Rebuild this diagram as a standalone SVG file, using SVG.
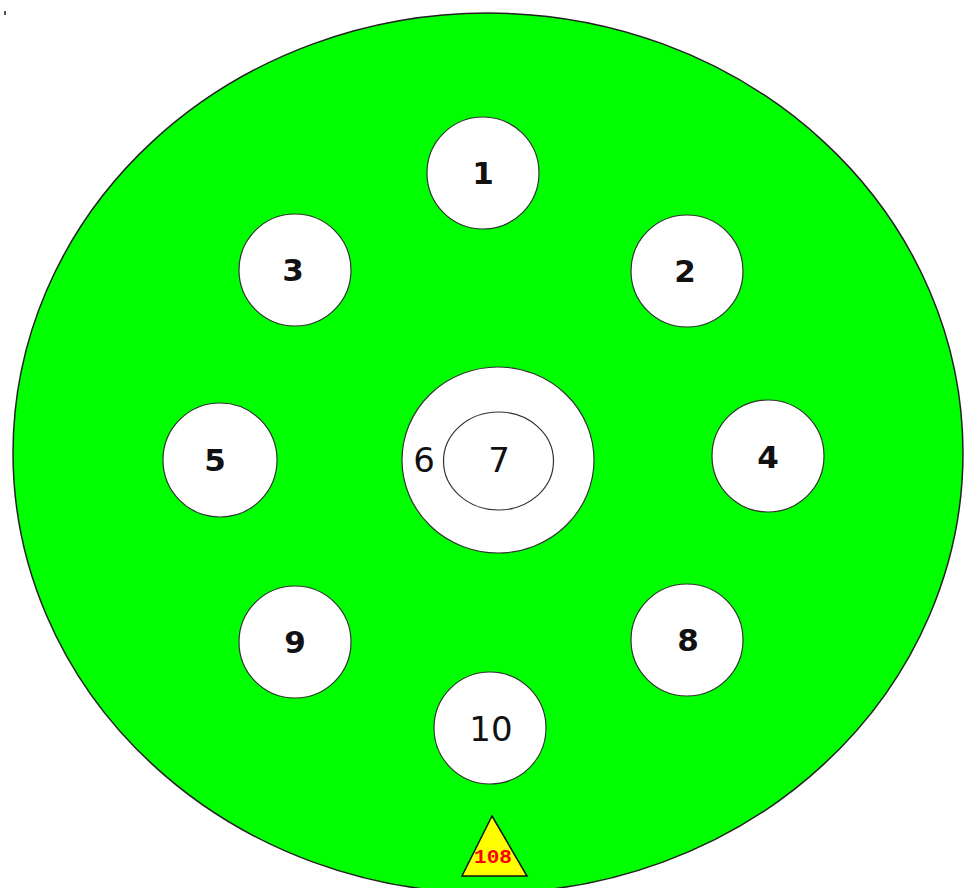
<svg xmlns="http://www.w3.org/2000/svg" width="964" height="888" viewBox="0 0 964 888">
  <style>
    .hole { fill: #ffffff; stroke: #333333; stroke-width: 1.2; }
    .num { font-family: "DejaVu Sans", "Liberation Sans", sans-serif; font-size: 31px; font-weight: bold; fill: #111111; text-anchor: middle; }
    .num2 { font-family: "DejaVu Sans", "Liberation Sans", sans-serif; font-size: 34px; font-weight: normal; fill: #111111; text-anchor: middle; }
    .tag { font-family: "Liberation Mono", "DejaVu Sans Mono", monospace; font-size: 21px; font-weight: bold; fill: #ff0000; text-anchor: middle; }
  </style>
  <rect x="0" y="0" width="964" height="888" fill="#ffffff"/>
  <rect x="4" y="11" width="2" height="4" fill="#555555"/>
  <g id="plate">
    <ellipse cx="488" cy="453" rx="475" ry="440" fill="#00ff00" stroke="#222222" stroke-width="1.5"/>
  </g>
  <g id="connectors"></g>
  <g id="n1"><circle class="hole" cx="483" cy="173" r="56"/><text class="num" x="483" y="184">1</text></g>
  <g id="n2"><circle class="hole" cx="687" cy="271" r="56"/><text class="num" x="685" y="282">2</text></g>
  <g id="n3"><circle class="hole" cx="295" cy="270" r="56"/><text class="num" x="293" y="281">3</text></g>
  <g id="n4"><circle class="hole" cx="768" cy="456" r="56"/><text class="num" x="768" y="468">4</text></g>
  <g id="n5"><circle class="hole" cx="220" cy="460" r="57"/><text class="num" x="215" y="471">5</text></g>
  <g id="n6">
    <ellipse class="hole" cx="498" cy="460" rx="96" ry="93"/>
    <text class="num2" x="424" y="472">6</text>
  </g>
  <g id="n7">
    <ellipse class="hole" cx="498.5" cy="461" rx="55" ry="49"/>
    <text class="num2" x="499" y="472">7</text>
  </g>
  <g id="n8"><circle class="hole" cx="687" cy="640" r="56"/><text class="num" x="688" y="651">8</text></g>
  <g id="n9"><circle class="hole" cx="295" cy="642" r="56"/><text class="num" x="295" y="653">9</text></g>
  <g id="n10"><circle class="hole" cx="490" cy="728" r="56"/><text class="num2" x="491" y="741">10</text></g>
  <g id="marker108">
    <polygon points="492,816 527,876 462,876" fill="#ffff00" stroke="#111111" stroke-width="1.5"/>
    <text class="tag" x="493" y="863">108</text>
  </g>
</svg>
